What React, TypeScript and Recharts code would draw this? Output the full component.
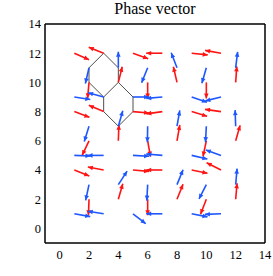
import React from 'react';
import { ScatterChart, Scatter, XAxis, YAxis, ReferenceLine } from 'recharts';

// Sublattice A (red) sites: [x, y, angle in degrees]
const redArrows: [number, number, number][] = [
  [1, 12, -24], [3, 12, 158], [5, 12, -20], [7, 12, 180], [9, 12, -6], [11, 12, 170],
  [2, 10, -95], [4, 10, 76], [6, 10, -90], [8, 10, 103], [10, 10, -90], [12, 10, 86],
  [1, 8, -21], [3, 8, 157], [5, 8, -5], [7, 8, 188], [9, 8, -17], [11, 8, 172],
  [2, 6, -115], [4, 6, 88], [6, 6, -80], [8, 6, 80], [10, 6, -102], [12, 6, 74],
  [1, 4, -22], [3, 4, 169], [5, 4, -5], [7, 4, 180], [9, 4, -12], [11, 4, 153],
  [2, 2, -92], [4, 2, 74], [6, 2, -90], [8, 2, 68], [10, 2, -111], [12, 2, 85],
];

// Sublattice B (blue) sites: [x, y, angle in degrees]
const blueArrows: [number, number, number][] = [
  [2, 11, -103], [4, 11, 90], [6, 11, -112], [8, 11, 111], [10, 11, -106], [12, 11, 83],
  [1, 9, -9], [3, 9, 165], [5, 9, 0], [7, 9, 185], [9, 9, -19], [11, 9, 194],
  [2, 7, -107], [4, 7, 74], [6, 7, -91], [8, 7, 80], [10, 7, -93], [12, 7, 92],
  [1, 5, -2], [3, 5, 180], [5, 5, -3], [7, 5, 175], [9, 5, -13], [11, 5, 160],
  [2, 3, -102], [4, 3, 57], [6, 3, -93], [8, 3, 68], [10, 3, -117], [12, 3, 85],
  [1, 1, -10], [3, 1, 171], [5, 1, -38], [7, 1, 180], [9, 1, -11], [11, 1, 182],
];

const arrowLength = 1.1;

// Honeycomb edges: [x1, y1, x2, y2]
const hexEdges: [number, number, number, number][] = [
  [3, 12, 2, 11], [2, 11, 2, 10], [2, 10, 3, 9], [3, 12, 4, 11], [4, 11, 4, 10],
  [4, 10, 3, 9], [3, 9, 3, 8], [3, 8, 4, 7], [4, 7, 5, 8], [5, 8, 5, 9], [5, 9, 4, 10],
];

const xTicks = [0, 2, 4, 6, 8, 10, 12, 14];
const yTicks = [0, 2, 4, 6, 8, 10, 12, 14];
const domain: [number, number] = [-1, 14];
const title = 'Phase vector';

const RED = '#ff1414';
const BLUE = '#1f57ff';
const FONT = '"Liberation Serif", "Times New Roman", serif';

const makeHead = (color: string) => (props: any) => {
  const { cx, cy, payload } = props;
  if (!payload || !payload.tip || cx == null || cy == null) return <g />;
  const a = (payload.angle * Math.PI) / 180;
  const ux = Math.cos(a);
  const uy = -Math.sin(a);
  const len = 5;
  const hw = 2.3;
  const bx = cx - ux * len;
  const by = cy - uy * len;
  const nx = -uy;
  const ny = ux;
  const pts = `${cx},${cy} ${bx + nx * hw},${by + ny * hw} ${bx - nx * hw},${by - ny * hw}`;
  return <polygon points={pts} fill={color} stroke="none" />;
};

const redHead = makeHead(RED);
const blueHead = makeHead(BLUE);

const buildArrow = (a: [number, number, number]) => {
  const [x, y, ang] = a;
  const r = (ang * Math.PI) / 180;
  return [
    { x, y, tip: false, angle: ang },
    { x: x + arrowLength * Math.cos(r), y: y + arrowLength * Math.sin(r), tip: true, angle: ang },
  ];
};

export default function App() {
  const frame = { stroke: '#000', strokeWidth: 1.5 };
  const tickLn = { stroke: '#000', strokeWidth: 1 };
  const tickFont = { fontFamily: FONT, fontSize: 12.5, fill: '#000' };
  return (
    <div style={{ position: 'absolute', left: 0, top: 0, width: 273, height: 276 }}>
      <style>{'html,body{overflow:hidden}'}</style>
      <ScatterChart width={273} height={276} margin={{ top: 24, right: 8, bottom: 13, left: 15 }}>
        <XAxis
          type="number"
          dataKey="x"
          domain={domain}
          ticks={xTicks}
          interval={0}
          height={20}
          tickSize={0}
          tickMargin={7}
          tickLine={false}
          axisLine={false}
          tick={tickFont}
          allowDataOverflow
        />
        <YAxis
          type="number"
          dataKey="y"
          domain={domain}
          ticks={yTicks}
          interval={0}
          width={30}
          tickSize={0}
          tickMargin={4}
          tickLine={false}
          axisLine={false}
          tick={tickFont}
          allowDataOverflow
        />
        <XAxis
          xAxisId="bm"
          orientation="bottom"
          mirror
          type="number"
          domain={domain}
          ticks={xTicks}
          interval={0}
          tickSize={4}
          tick={false}
          tickLine={tickLn}
          axisLine={frame}
          allowDataOverflow
        />
        <XAxis
          xAxisId="tm"
          orientation="top"
          mirror
          type="number"
          domain={domain}
          ticks={xTicks}
          interval={0}
          tickSize={4}
          tick={false}
          tickLine={tickLn}
          axisLine={frame}
          allowDataOverflow
        />
        <YAxis
          yAxisId="lm"
          orientation="left"
          mirror
          type="number"
          domain={domain}
          ticks={yTicks}
          interval={0}
          tickSize={4}
          tick={false}
          tickLine={tickLn}
          axisLine={frame}
          allowDataOverflow
        />
        <YAxis
          yAxisId="rm"
          orientation="right"
          mirror
          type="number"
          domain={domain}
          ticks={yTicks}
          interval={0}
          tickSize={4}
          tick={false}
          tickLine={tickLn}
          axisLine={frame}
          allowDataOverflow
        />
        {hexEdges.map((e, i) => (
          <ReferenceLine
            key={`hex-${i}`}
            segment={[{ x: e[0], y: e[1] }, { x: e[2], y: e[3] }]}
            stroke="#3a3a3a"
            strokeWidth={0.9}
          />
        ))}
        {redArrows.map((a, i) => (
          <Scatter
            key={`r-${i}`}
            data={buildArrow(a)}
            line={{ stroke: RED, strokeWidth: 1.6 }}
            shape={redHead}
            fill={RED}
            isAnimationActive={false}
          />
        ))}
        {blueArrows.map((a, i) => (
          <Scatter
            key={`b-${i}`}
            data={buildArrow(a)}
            line={{ stroke: BLUE, strokeWidth: 1.6 }}
            shape={blueHead}
            fill={BLUE}
            isAnimationActive={false}
          />
        ))}
        <text x={155} y={14} textAnchor="middle" fontFamily={FONT} fontSize={16} fill="#000">
          {title}
        </text>
      </ScatterChart>
    </div>
  );
}
